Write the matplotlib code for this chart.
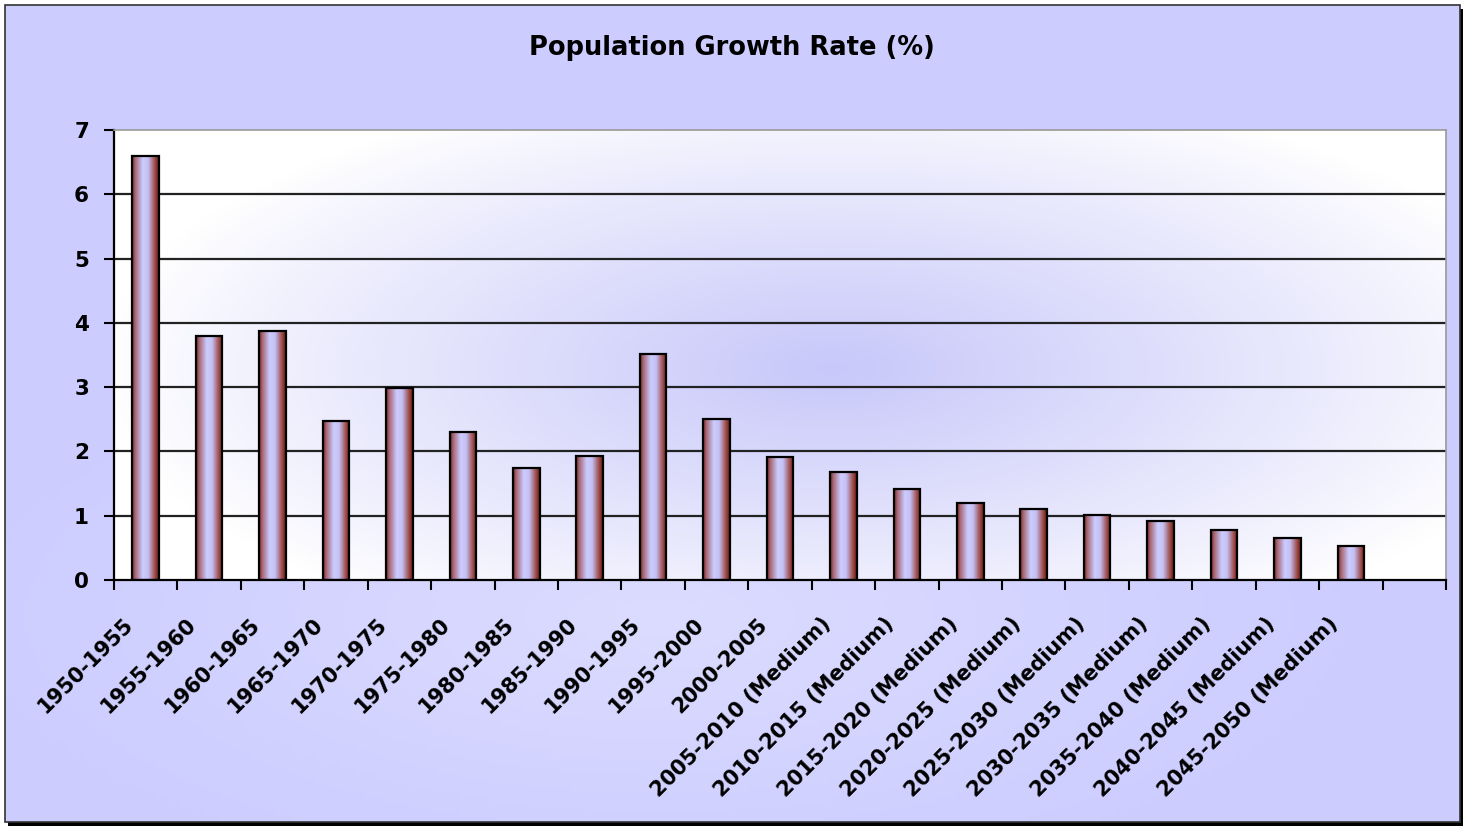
import numpy as np
import matplotlib.pyplot as plt
from matplotlib.colors import LinearSegmentedColormap
from matplotlib.patches import Rectangle
from matplotlib.transforms import ScaledTranslation

periods = ['1950-1955', '1955-1960', '1960-1965', '1965-1970', '1970-1975',
           '1975-1980', '1980-1985', '1985-1990', '1990-1995', '1995-2000',
           '2000-2005', '2005-2010 (Medium)', '2010-2015 (Medium)',
           '2015-2020 (Medium)', '2020-2025 (Medium)', '2025-2030 (Medium)',
           '2030-2035 (Medium)', '2035-2040 (Medium)', '2040-2045 (Medium)',
           '2045-2050 (Medium)']
growth = [6.6, 3.8, 3.87, 2.47, 2.98, 2.3, 1.74, 1.93, 3.51, 2.5,
          1.92, 1.68, 1.41, 1.2, 1.1, 1.01, 0.92, 0.78, 0.66, 0.53]

W, H = 1469, 827
fig = plt.figure(figsize=(W / 100, H / 100), dpi=100)
fig.patch.set_facecolor('white')

# chart frame with shadow
fig.patches.append(Rectangle((8 / W, 1 - 826 / H), 1455 / W, 817 / H,
                             transform=fig.transFigure, facecolor='black',
                             edgecolor='none', zorder=-3))
fig.patches.append(Rectangle((5 / W, 1 - 822 / H), 1455 / W, 817 / H,
                             transform=fig.transFigure, facecolor='#ccccff',
                             edgecolor='#333333', lw=1.2, zorder=-2))

# soft lighter patch in the chart background
bg = fig.add_axes([6 / W, 1 - 821 / H, 1453 / W, 815 / H], zorder=-1)
bg.axis('off')
fx, fy = np.meshgrid(np.linspace(0, 1, 300), np.linspace(0, 1, 170))
fr = np.sqrt(((fx - 0.45) / 0.5) ** 2 + ((fy - 0.25) / 0.35) ** 2)
bg.imshow(np.clip(1 - fr, 0, 1), cmap=LinearSegmentedColormap.from_list(
    'fbg', ['#ccccff', '#dcdcff']), extent=[0, 1, 0, 1], aspect='auto',
    origin='lower', vmin=0, vmax=1)

ax = fig.add_axes([114 / W, 1 - 580 / H, (1446 - 114) / W, (580 - 130) / H])
ax.set_facecolor('white')

# radial lavender glow in the plot area
gx, gy = np.meshgrid(np.linspace(0, 1, 400), np.linspace(0, 1, 200))
r = np.sqrt(((gx - 0.54) / 0.55) ** 2 + ((gy - 0.47) / 0.65) ** 2)
glow = np.clip(1 - r, 0, 1) ** 0.9
bgcmap = LinearSegmentedColormap.from_list('bg', ['#ffffff', '#c8c8fa'])
ax.imshow(glow, cmap=bgcmap, extent=[0, 1, 0, 1], transform=ax.transAxes,
          aspect='auto', origin='lower', zorder=0, vmin=0, vmax=1)

n_slots = len(periods) + 1
x = np.arange(len(periods))
ax.set_xlim(-0.5, n_slots - 0.5)
ax.set_ylim(0, 7)

for y in range(1, 7):
    ax.axhline(y, color='#222222', lw=1.6, zorder=1)

barcmap = LinearSegmentedColormap.from_list(
    'bar', [(0, '#7a2a20'), (0.12, '#a86878'), (0.4, '#ccccff'),
            (0.6, '#c4c0f4'), (0.85, '#a05050'), (1, '#6a1a08')])
grad = np.linspace(0, 1, 64).reshape(1, -1)
bw = 0.42
bars = ax.bar(x, growth, width=bw, facecolor='none', edgecolor='black',
              lw=1.6, zorder=3)
for b in bars:
    x0, y0 = b.get_x(), b.get_y()
    im = ax.imshow(grad, cmap=barcmap, aspect='auto', zorder=2,
                   extent=[x0, x0 + b.get_width(), y0, y0 + b.get_height()])
    im.set_clip_path(b)

ax.set_yticks(range(8))
ax.set_xticks(np.arange(n_slots + 1) - 0.5)
ax.set_xticklabels([])
ax.tick_params(axis='x', length=7, width=1.5, direction='out')
ax.tick_params(axis='y', length=7, width=1.5, labelsize=15.5, pad=11)
for t in ax.get_yticklabels():
    t.set_fontweight('bold')

# category labels, slanted and set a bit down-left of the slot centre
shift = ScaledTranslation(-23 / 100, -34 / 100, fig.dpi_scale_trans)
for i, p in enumerate(periods):
    ax.text(i, 0, p, transform=ax.get_xaxis_transform() + shift,
            rotation=45, ha='right', va='top', rotation_mode='anchor',
            fontsize=15, fontweight='bold', clip_on=False)

for s in ['top', 'right']:
    ax.spines[s].set_color('#999999')
    ax.spines[s].set_linewidth(1.2)
for s in ['left', 'bottom']:
    ax.spines[s].set_color('black')
    ax.spines[s].set_linewidth(1.6)

fig.text(732 / W, 1 - 48 / H, 'Population Growth Rate (%)', ha='center',
         va='center', fontsize=18.5, fontweight='bold')

fig.savefig('out.png', dpi=100)
